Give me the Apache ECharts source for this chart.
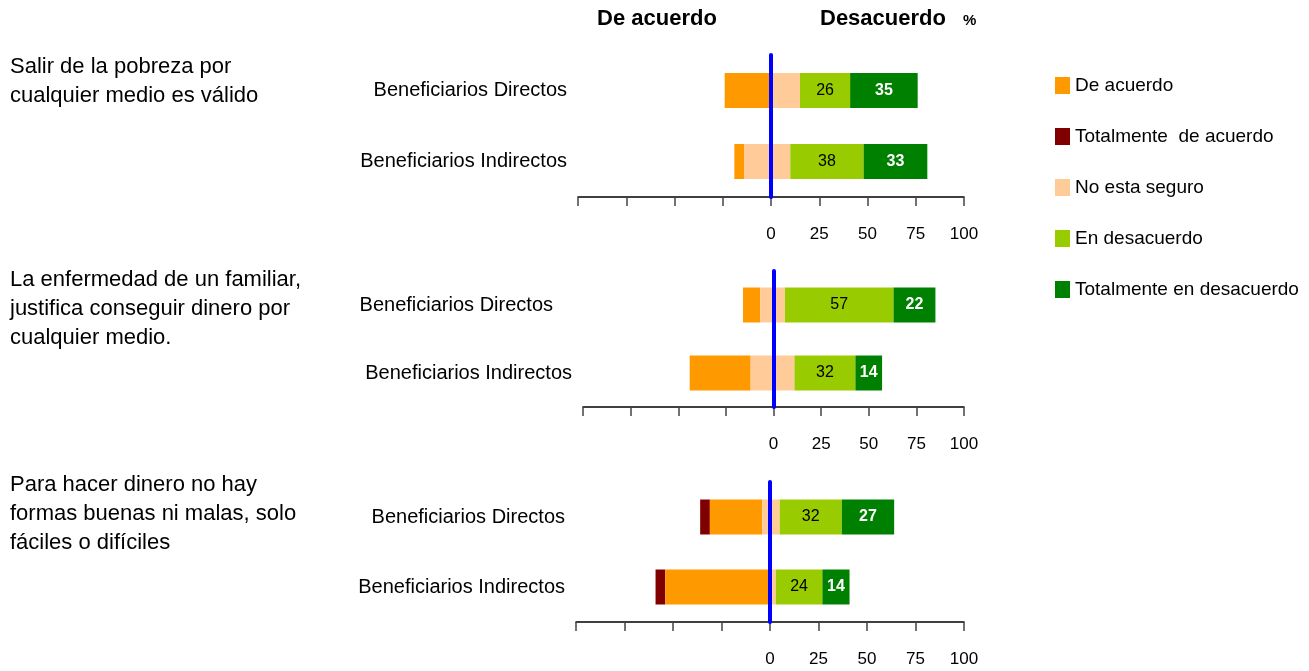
<!DOCTYPE html>
<html>
<head>
<meta charset="utf-8">
<title>De acuerdo / Desacuerdo</title>
<script src="https://cdn.jsdelivr.net/npm/echarts@6.0.0/dist/echarts.min.js"></script>
<style>
  html, body { margin: 0; padding: 0; background: #fff; }
  #echarts { width: 1309px; height: 671px; }
</style>
</head>
<body>
<div id="echarts"></div>
<script>
const questions = [
  'Salir de la pobreza por\ncualquier medio es válido',
  'La enfermedad de un familiar,\njustifica conseguir dinero por\ncualquier medio.',
  'Para hacer dinero no hay\nformas buenas ni malas, solo\nfáciles o difíciles'
];
const groups = ['Beneficiarios Directos', 'Beneficiarios Indirectos'];
const legendNames = ['De acuerdo', 'Totalmente  de acuerdo', 'No esta seguro', 'En desacuerdo', 'Totalmente en desacuerdo'];

// one pair per question: [Directos, Indirectos]
const barStart = [[-24, -19], [-16, -44], [-36, -59]]; // left end of each bar
const totalmenteDeAcuerdo = [[0, 0], [0, 0], [5, 5]];
const deAcuerdo = [[24, 5], [9, 32], [27, 53]];
const noEstaSeguro = [[15, 24], [13, 23], [9, 4]];
const enDesacuerdo = [[26, 38], [57, 32], [32, 24]];
const totalmenteEnDesacuerdo = [[35, 33], [22, 14], [27, 14]];
const tickLabels = [0, 25, 50, 75, 100];

const font = "'Liberation Sans', Arial, sans-serif";

const panels = [
  { left: 578, width: 386, top: 55, height: 142, textTop: 52, pad: [0, 0] },
  { left: 583, width: 381, top: 271, height: 136, textTop: 265, pad: [19, 0] },
  { left: 576, width: 388, top: 482, height: 140, textTop: 470, pad: [0, 0] }
];

const stackParts = [
  { name: 'Totalmente  de acuerdo', data: totalmenteDeAcuerdo, color: '#800000' },
  { name: 'De acuerdo', data: deAcuerdo, color: '#ff9900' },
  { name: 'No esta seguro', data: noEstaSeguro, color: '#ffcc99' },
  { name: 'En desacuerdo', data: enDesacuerdo, color: '#99cc00', labelColor: '#000' },
  { name: 'Totalmente en desacuerdo', data: totalmenteEnDesacuerdo, color: '#008000', labelColor: '#fff', bold: true }
];

const grid = [], xAxis = [], yAxis = [], series = [];
const graphic = [
  { type: 'text', left: 597, top: 8, style: { text: 'De acuerdo', font: 'bold 22px ' + font, fill: '#000' } },
  { type: 'text', left: 820, top: 8, style: { text: 'Desacuerdo', font: 'bold 22px ' + font, fill: '#000' } },
  { type: 'text', left: 963, top: 13, style: { text: '%', font: 'bold 15px ' + font, fill: '#000' } }
];

panels.forEach((p, i) => {
  grid.push({ left: p.left, width: p.width, top: p.top, height: p.height });
  xAxis.push({
    type: 'value',
    gridIndex: i,
    min: -100,
    max: 100,
    interval: 25,
    splitLine: { show: false },
    axisLine: { show: true, onZero: false, lineStyle: { color: '#000', width: 1.5 } },
    axisTick: { show: true, length: 9, lineStyle: { color: '#444', width: 1.5 } },
    axisLabel: {
      margin: 29,
      color: '#000',
      fontSize: 17,
      fontFamily: font,
      formatter: v => (tickLabels.indexOf(v) >= 0 ? String(v) : '')
    }
  });
  yAxis.push({
    type: 'category',
    gridIndex: i,
    inverse: true,
    data: groups.map((g, k) => ({ value: g, textStyle: { padding: [0, p.pad[k], 0, 0] } })),
    axisLine: { show: false },
    axisTick: { show: false },
    axisLabel: { margin: 11, color: '#000', fontSize: 20, fontFamily: font }
  });

  // invisible piece that pushes each bar to its left edge
  series.push({
    type: 'bar',
    name: 'offset',
    xAxisIndex: i,
    yAxisIndex: i,
    stack: 'p' + i,
    stackStrategy: 'all',
    barWidth: 35,
    silent: true,
    itemStyle: { color: 'transparent' },
    data: barStart[i]
  });
  stackParts.forEach((s, j) => {
    const last = j === stackParts.length - 1;
    series.push({
      type: 'bar',
      name: s.name,
      xAxisIndex: i,
      yAxisIndex: i,
      stack: 'p' + i,
      stackStrategy: 'all',
      barWidth: 35,
      itemStyle: { color: s.color },
      emphasis: { disabled: true },
      label: {
        show: !!s.labelColor,
        position: 'inside',
        color: s.labelColor,
        fontSize: 16,
        fontFamily: font,
        fontWeight: s.bold ? 'bold' : 'normal'
      },
      data: s.data[i],
      markLine: last ? {
        silent: true,
        symbol: 'none',
        label: { show: false },
        lineStyle: { color: '#0000ff', width: 4, type: 'solid', cap: 'round' },
        data: [{ xAxis: 0 }]
      } : undefined
    });
  });

  graphic.push({
    type: 'text',
    left: 10,
    top: p.textTop,
    style: { text: questions[i], font: '22px ' + font, lineHeight: 29, fill: '#000' }
  });
});

const option = {
  animation: false,
  backgroundColor: '#fff',
  legend: {
    orient: 'vertical',
    left: 1050,
    top: 71,
    icon: 'rect',
    itemWidth: 15,
    itemHeight: 17,
    itemGap: 32,
    selectedMode: false,
    textStyle: { fontSize: 19, color: '#000', fontFamily: font },
    data: legendNames
  },
  grid: grid,
  xAxis: xAxis,
  yAxis: yAxis,
  series: series,
  graphic: graphic
};

const myChart = echarts.init(document.getElementById('echarts'));
myChart.setOption(option);
</script>
</body>
</html>
